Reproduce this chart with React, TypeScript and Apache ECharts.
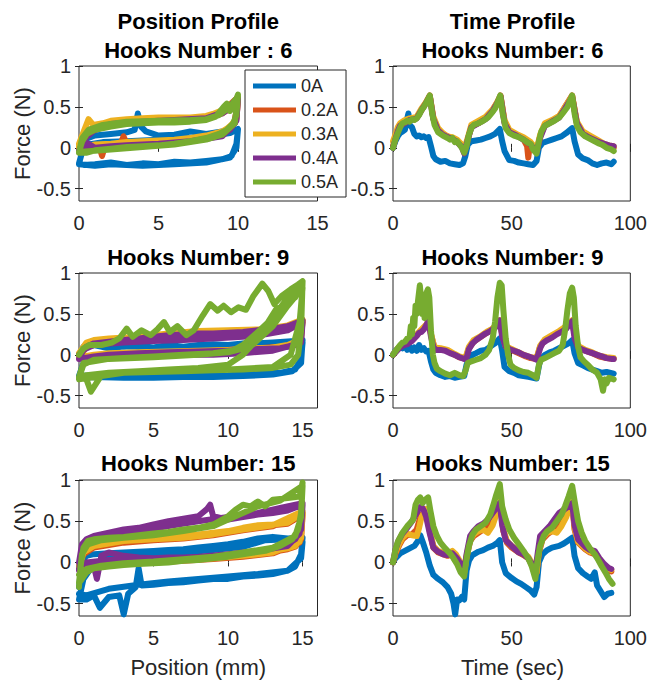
import React, { useEffect, useRef } from "react";
import * as echarts from "echarts";

type P = [number, number][];

const currents = ["0A", "0.2A", "0.3A", "0.4A", "0.5A"];
const colors = ["#0072BD", "#D95319", "#EDB120", "#7E2F8E", "#77AC30"];

const yTicks = [-0.5, 0, 0.5, 1];
const posTicks = [0, 5, 10, 15];
const timeTicks = [0, 50, 100];

const leftTitleTop = "Position Profile";
const rightTitleTop = "Time Profile";
const rowTitlesLeft = ["Hooks Number : 6", "Hooks Number: 9", "Hooks Number: 15"];
const rowTitlesRight = ["Hooks Number: 6", "Hooks Number: 9", "Hooks Number: 15"];
const yLabel = "Force (N)";
const xLabelLeft = "Position (mm)";
const xLabelRight = "Time (sec)";

// ---------- Position profile, hooks 6 ----------
const pos6_0A: P = [[0,0.0],[0.3,0.1],[1,0.15],[2,0.17],[3,0.19],[3.5,0.22],[3.7,0.42],[3.9,0.26],[4.2,0.2],[5,0.15],[6,0.16],[7,0.2],[8,0.17],[9,0.2],[9.8,0.21],[10,0.23],[9.9,0.05],[9.6,-0.1],[9,-0.14],[8,-0.16],[7,-0.18],[6,-0.17],[5,-0.2],[4,-0.19],[3,-0.21],[2,-0.18],[1,-0.2],[0.3,-0.21],[0,-0.19],[0.2,-0.05],[0.6,0.04],[1.5,0.07],[3,0.08],[5,0.1],[7,0.12],[8.5,0.15],[9.5,0.18],[10,0.23],[9.9,0.0],[9.5,-0.12],[8,-0.18],[6,-0.2],[4,-0.22],[2,-0.2],[1,-0.22],[0,-0.2]];
const pos6_02A: P = [[0,0.0],[0.3,0.12],[0.8,0.2],[1.4,0.25],[2,0.3],[3,0.32],[4,0.33],[5,0.34],[6,0.34],[7,0.35],[8,0.37],[9,0.42],[9.6,0.5],[10,0.6],[9.9,0.35],[9.5,0.24],[9,0.18],[8,0.13],[7,0.1],[6,0.08],[5,0.07],[4,0.06],[3,0.05],[2.8,0.14],[2.6,0.04],[2,0.03],[1.6,0.0],[1.45,-0.1],[1.3,0.0],[1,0.02],[0.5,-0.02],[0,-0.04],[0.3,0.12],[1,0.24],[2,0.3],[4,0.33],[6,0.35],[8,0.37],[9,0.44],[10,0.62],[9.8,0.3],[9,0.16],[7,0.1],[5,0.07],[3,0.04],[1,0.01],[0,-0.02]];
const pos6_03A: P = [[0,0.05],[0.3,0.2],[0.6,0.35],[0.9,0.28],[1.5,0.3],[2,0.33],[3,0.35],[4,0.36],[5,0.37],[6,0.37],[7,0.37],[8,0.39],[9,0.45],[9.6,0.52],[10,0.6],[9.9,0.36],[9.5,0.26],[9,0.2],[8,0.15],[7,0.12],[6,0.1],[5,0.09],[4,0.08],[3,0.07],[2,0.05],[1,0.04],[0.5,0.02],[0,0.02],[0.3,0.16],[1,0.27],[2,0.32],[4,0.35],[6,0.36],[8,0.38],[9,0.46],[10,0.6],[9.8,0.32],[9,0.18],[7,0.11],[5,0.08],[3,0.06],[1,0.03],[0,0.0]];
const pos6_04A: P = [[0,-0.04],[0.3,0.1],[1,0.22],[2,0.28],[3,0.31],[4,0.32],[5,0.33],[6,0.33],[7,0.34],[8,0.36],[9,0.42],[9.6,0.5],[10,0.6],[9.9,0.33],[9.5,0.22],[9,0.16],[8,0.11],[7,0.08],[6,0.06],[5,0.05],[4,0.04],[3,0.03],[2,0.02],[1,0.0],[0.5,0.06],[0.2,-0.03],[0,-0.05],[0.3,0.12],[1,0.23],[2,0.29],[4,0.32],[6,0.34],[8,0.36],[9,0.43],[10,0.61],[9.8,0.3],[9,0.14],[7,0.08],[5,0.05],[3,0.03],[1,-0.01],[0,-0.03]];
const pos6_05A: P = [[0,-0.05],[0.2,0.08],[0.5,0.17],[1,0.22],[2,0.26],[3,0.29],[4,0.3],[5,0.31],[6,0.31],[7,0.32],[8,0.34],[8.6,0.38],[9.1,0.5],[9.3,0.54],[9.5,0.45],[9.8,0.55],[10,0.65],[9.9,0.4],[9.7,0.3],[9.3,0.22],[8.8,0.17],[8,0.12],[7,0.08],[6,0.05],[5,0.03],[4,0.02],[3,0.01],[2,-0.01],[1,-0.03],[0.5,-0.06],[0,-0.06],[0.2,0.12],[0.6,0.22],[1.5,0.28],[3,0.32],[5,0.33],[7,0.34],[8,0.35],[8.8,0.4],[9.5,0.5],[10,0.63],[9.8,0.3],[9,0.16],[8,0.1],[6,0.04],[4,0.01],[2,-0.02],[0.8,-0.04],[0,-0.05]];

// ---------- Time profile, hooks 6 ----------
const time6_0A: P = [[0,0.0],[1,0.08],[2,0.14],[3,0.18],[4,0.2],[5,0.22],[6,0.36],[6.5,0.42],[7,0.28],[8,0.25],[9,0.17],[10,0.14],[11,0.15],[12,0.13],[13,0.14],[14,0.12],[15,0.13],[16,0.02],[17,-0.1],[18,-0.14],[20,-0.17],[22,-0.16],[24,-0.19],[26,-0.2],[28,-0.21],[29.5,-0.19],[30.5,-0.1],[31.5,0.04],[33,0.08],[35,0.09],[37,0.1],[39,0.12],[41,0.14],[43,0.17],[45,0.23],[46,0.08],[47,-0.04],[49,-0.15],[51,-0.16],[53,-0.18],[55,-0.19],[57,-0.2],[59,-0.21],[60.5,-0.16],[61.5,0.0],[63,0.06],[65,0.08],[67,0.1],[69,0.12],[71,0.14],[73,0.18],[75.5,0.24],[76.5,0.08],[78,-0.08],[80,-0.13],[82,-0.15],[84,-0.19],[86,-0.21],[88,-0.19],[90,-0.18],[92,-0.2],[93,-0.17]];
const time6_02A: P = [[0,0.02],[1,0.12],[2,0.22],[3,0.28],[5,0.32],[7,0.35],[9,0.35],[10,0.37],[12,0.46],[14,0.56],[15.5,0.64],[17,0.36],[19,0.22],[21,0.17],[23,0.14],[25,0.12],[27,0.08],[29,0.03],[30,-0.04],[31.5,0.1],[33,0.26],[36,0.3],[39,0.36],[42,0.46],[44,0.56],[45.3,0.64],[47,0.32],[49,0.2],[52,0.16],[55,0.1],[56.5,0.02],[57,-0.12],[57.5,0.0],[59,0.02],[60.5,-0.04],[62,0.14],[64,0.28],[67,0.32],[70,0.38],[72.5,0.5],[75.5,0.64],[77.5,0.3],[80,0.18],[83,0.13],[86,0.08],[89,0.03],[91,0.02],[93,0.0]];
const time6_03A: P = [[0,0.08],[1,0.16],[2,0.25],[3,0.3],[5,0.34],[7,0.36],[9,0.37],[10,0.38],[12,0.48],[14,0.56],[15.5,0.63],[17,0.38],[19,0.24],[21,0.18],[23,0.14],[25,0.13],[27,0.1],[29,0.04],[30,-0.02],[31.5,0.12],[33,0.28],[36,0.33],[39,0.38],[42,0.47],[44,0.56],[45.3,0.63],[47,0.34],[49,0.22],[52,0.17],[55,0.13],[58,0.07],[60.5,-0.02],[62,0.16],[64,0.3],[67,0.34],[70,0.39],[72.5,0.5],[75.5,0.63],[77.5,0.32],[80,0.2],[83,0.15],[86,0.1],[89,0.05],[91,0.03],[93,0.02]];
const time6_04A: P = [[0,0.0],[1,0.1],[2,0.2],[3,0.27],[5,0.3],[7,0.34],[9,0.35],[10,0.36],[12,0.46],[14,0.55],[15.5,0.63],[17,0.35],[19,0.21],[21,0.16],[23,0.13],[25,0.11],[27,0.07],[29,0.01],[30,-0.07],[31.5,0.1],[33,0.25],[36,0.3],[39,0.35],[42,0.45],[44,0.55],[45.3,0.63],[47,0.3],[49,0.19],[52,0.15],[55,0.1],[58,0.04],[60.5,-0.06],[62,0.12],[64,0.27],[67,0.32],[70,0.37],[72.5,0.48],[75.5,0.62],[77.5,0.3],[80,0.17],[83,0.12],[86,0.08],[89,0.05],[91,0.03],[93,0.02]];
const time6_05A: P = [[0,0.0],[1,0.1],[2,0.18],[3,0.25],[4,0.3],[5,0.31],[6,0.33],[7,0.32],[8,0.35],[9,0.34],[10,0.36],[11,0.4],[12,0.46],[13,0.5],[14,0.55],[15.5,0.64],[16.5,0.42],[17.5,0.28],[19,0.19],[21,0.15],[23,0.12],[24,0.1],[25,0.12],[26,0.07],[27,0.08],[28,0.04],[29,0.0],[30,-0.06],[31,0.02],[32,0.16],[33,0.24],[34,0.28],[36,0.3],[38,0.33],[40,0.37],[42,0.44],[43,0.48],[44,0.55],[45.2,0.64],[46.2,0.42],[47.5,0.24],[49,0.18],[51,0.15],[53,0.13],[55,0.1],[56,0.08],[57,0.06],[58,0.05],[59,-0.02],[60.5,-0.07],[61.5,0.08],[62.5,0.2],[64,0.27],[66,0.3],[68,0.33],[70,0.37],[72,0.44],[73.5,0.5],[75.5,0.64],[76.5,0.42],[77.5,0.27],[79,0.19],[81,0.14],[83,0.11],[85,0.08],[87,0.05],[88,0.04],[90,0.0],[92,-0.02],[93,-0.04]];

// ---------- Position profile, hooks 9 ----------
const pos9_0A: P = [[0,0.0],[0.3,0.1],[1,0.12],[2,0.08],[3,0.1],[4,0.11],[5,0.09],[6,0.12],[7,0.1],[8,0.12],[9,0.13],[10,0.12],[11,0.14],[12,0.12],[13,0.13],[14,0.1],[15,0.15],[14.9,-0.05],[14.5,-0.18],[13.5,-0.22],[12,-0.23],[10,-0.25],[8,-0.26],[6,-0.26],[4,-0.27],[2,-0.26],[1,-0.25],[0,-0.26],[0.3,-0.1],[1,-0.02],[3,0.02],[5,0.05],[7,0.07],[9,0.1],[11,0.13],[13,0.15],[14.5,0.17],[15,0.18],[14.9,-0.1],[14.3,-0.2],[13,-0.24],[11,-0.26],[9,-0.27],[7,-0.27],[5,-0.28],[3,-0.28],[1,-0.27],[0,-0.28]];
const pos9_02A: P = [[0,0.0],[0.5,0.14],[1,0.17],[2,0.19],[4,0.21],[6,0.25],[8,0.28],[10,0.29],[12,0.3],[13,0.32],[14,0.35],[15,0.42],[14.9,0.21],[14.5,0.13],[13.5,0.1],[12,0.08],[10,0.06],[8,0.04],[6,0.03],[4,0.02],[2,0.01],[1,-0.01],[0,-0.04],[0.5,0.1],[2,0.16],[4,0.18],[6,0.21],[8,0.24],[10,0.26],[12,0.27],[14,0.31],[15,0.4],[14.8,0.17],[14,0.11],[12,0.05],[10,0.03],[8,0.02],[6,0.01],[4,0.0],[2,-0.01],[0,-0.04]];
const pos9_03A: P = [[0,0.02],[0.5,0.15],[1,0.18],[2,0.2],[4,0.22],[6,0.26],[8,0.29],[10,0.3],[12,0.31],[13,0.33],[14,0.36],[15,0.43],[14.9,0.22],[14.5,0.14],[13.5,0.1],[12,0.08],[10,0.06],[8,0.05],[6,0.04],[4,0.03],[2,0.02],[1,0.0],[0,-0.03],[0.5,0.12],[2,0.17],[4,0.19],[6,0.22],[8,0.25],[10,0.27],[12,0.28],[14,0.32],[15,0.41],[14.8,0.18],[14,0.12],[12,0.06],[10,0.04],[8,0.03],[6,0.02],[4,0.01],[2,0.0],[0,-0.03]];
const pos9_04A: P = [[0,0.0],[0.5,0.1],[1,0.14],[2,0.16],[3,0.18],[4,0.2],[5,0.22],[6,0.24],[7,0.25],[8,0.26],[9,0.26],[10,0.27],[11,0.28],[12,0.3],[13,0.32],[14,0.35],[15,0.42],[14.9,0.2],[14.5,0.12],[13.5,0.08],[12,0.07],[10,0.05],[8,0.04],[6,0.03],[4,0.02],[2,0.0],[1,-0.02],[0,-0.05],[0.3,0.06],[1,0.12],[3,0.15],[5,0.17],[7,0.18],[9,0.2],[11,0.22],[12.5,0.25],[14,0.3],[15,0.4],[14.9,0.15],[14,0.1],[13,0.05],[11,0.02],[9,0.0],[7,0.0],[5,-0.01],[3,-0.02],[1,-0.04],[0,-0.05]];
const pos9_05A: P = [[0,0.0],[0.3,0.08],[0.7,0.12],[1.5,0.12],[2.2,0.15],[2.7,0.2],[3.2,0.32],[3.6,0.22],[4.2,0.3],[4.8,0.24],[5.3,0.32],[5.7,0.4],[6.1,0.28],[6.6,0.35],[7.2,0.24],[7.7,0.3],[8.3,0.48],[8.8,0.62],[9.3,0.54],[9.7,0.6],[10.2,0.52],[10.7,0.58],[11.2,0.55],[11.7,0.72],[12.3,0.87],[12.7,0.78],[13.1,0.62],[13.6,0.72],[14.2,0.8],[14.7,0.86],[15,0.9],[14.9,0.3],[14.7,0.0],[14.2,-0.12],[13,-0.16],[11,-0.18],[9,-0.19],[7,-0.2],[5,-0.21],[3,-0.22],[1.5,-0.25],[0.8,-0.45],[0.5,-0.3],[0,-0.28],[0.3,-0.12],[1,-0.06],[3,-0.04],[5,-0.02],[7,0.0],[9,0.02],[10.3,0.05],[11,0.12],[12,0.28],[13,0.45],[14,0.7],[15,0.9],[14.5,0.7],[13.2,0.55],[12,0.2],[11,0.0],[10,-0.12],[8,-0.16],[6,-0.18],[4,-0.2],[2,-0.22],[0.5,-0.25],[0,-0.27],[0.3,-0.1],[2,-0.05],[5,-0.03],[8,0.0],[10,0.03],[11.5,0.1],[13,0.35],[14,0.6],[15,0.82],[14.8,0.4],[14.2,0.0],[13,-0.15],[10,-0.18],[6,-0.2],[3,-0.22],[0,-0.3]];

// ---------- Time profile, hooks 9 ----------
const time9_0A: P = [[0,0.0],[1,0.05],[2,0.08],[3,0.1],[4,0.08],[5,0.12],[6,0.06],[7,0.1],[8,0.05],[9,0.09],[10,0.05],[11,0.12],[12,0.06],[13,0.08],[14,0.04],[15,0.05],[16,-0.08],[17,-0.18],[18,-0.22],[20,-0.25],[22,-0.27],[24,-0.26],[26,-0.28],[28,-0.27],[30,-0.26],[31,-0.12],[32,-0.05],[33.5,0.0],[35,0.02],[37,0.05],[39,0.06],[41,0.1],[43,0.14],[45,0.2],[46,0.05],[47,-0.15],[49,-0.2],[51,-0.22],[53,-0.25],[55,-0.26],[57,-0.27],[59,-0.28],[60.5,-0.29],[62,-0.06],[64,0.0],[66,0.03],[68,0.05],[70,0.08],[72,0.11],[74,0.14],[75.5,0.18],[76.5,0.02],[78,-0.1],[80,-0.13],[82,-0.16],[84,-0.18],[86,-0.2],[88,-0.22],[90,-0.21],[93,-0.23]];
const time9_02A: P = [[0,0.0],[2,0.07],[4,0.12],[6,0.14],[8,0.18],[10,0.24],[12,0.3],[14,0.36],[15,0.42],[16,0.25],[17.5,0.08],[20,0.07],[23,0.05],[26,0.0],[28,-0.03],[30.5,-0.05],[32,0.08],[34,0.16],[37,0.22],[40,0.28],[42,0.32],[44,0.38],[45,0.42],[46,0.25],[47.5,0.1],[50,0.06],[53,0.02],[56,-0.02],[58,-0.04],[60.5,-0.05],[62,0.1],[64,0.18],[67,0.22],[70,0.28],[72,0.32],[74,0.38],[75.5,0.42],[76.5,0.25],[78,0.1],[81,0.05],[84,0.02],[87,-0.02],[90,-0.04],[93,-0.05]];
const time9_03A: P = [[0,0.0],[2,0.08],[4,0.13],[6,0.15],[8,0.19],[10,0.25],[12,0.31],[14,0.37],[15,0.41],[16,0.25],[17.5,0.09],[20,0.08],[23,0.06],[26,0.01],[28,-0.02],[30.5,-0.04],[32,0.1],[34,0.18],[37,0.23],[40,0.29],[42,0.32],[44,0.38],[45,0.42],[46,0.26],[47.5,0.11],[50,0.07],[53,0.03],[56,-0.01],[58,-0.03],[60.5,-0.04],[62,0.11],[64,0.19],[67,0.24],[70,0.29],[72,0.33],[74,0.38],[75.5,0.42],[76.5,0.26],[78,0.11],[81,0.06],[84,0.03],[87,-0.01],[90,-0.03],[93,-0.04]];
const time9_04A: P = [[0,0.0],[1,0.03],[2,0.06],[3,0.09],[4,0.11],[5,0.12],[6,0.13],[7,0.15],[8,0.17],[9,0.2],[10,0.23],[11,0.27],[12,0.28],[13,0.31],[14,0.36],[15,0.42],[16,0.22],[17,0.1],[18,0.06],[20,0.06],[22,0.05],[24,0.02],[26,0.0],[28,-0.03],[30,-0.05],[31,-0.04],[32,0.07],[33.5,0.14],[35,0.18],[37,0.22],[39,0.26],[41,0.29],[43,0.33],[44,0.37],[45,0.42],[46,0.22],[47.5,0.1],[49,0.07],[51,0.05],[53,0.03],[55,0.0],[57,-0.02],[59,-0.04],[60.5,-0.06],[62,0.08],[63,0.14],[65,0.18],[67,0.21],[69,0.25],[71,0.28],[73,0.32],[74.5,0.38],[75.5,0.41],[76.5,0.2],[78,0.09],[80,0.06],[82,0.04],[84,0.02],[86,0.0],[88,-0.02],[90,-0.04],[92,-0.05],[93,-0.05]];
const time9_05A: P = [[0,0.0],[1,0.04],[2,0.08],[3,0.12],[4,0.15],[5,0.16],[6,0.2],[7,0.22],[7.5,0.35],[8,0.25],[8.5,0.45],[9,0.35],[9.5,0.6],[10,0.5],[10.5,0.65],[11.3,0.85],[11.8,0.7],[12.3,0.5],[12.8,0.62],[13.3,0.45],[14,0.75],[14.7,0.8],[15.3,0.7],[16,0.3],[16.8,0.0],[17.5,-0.1],[18.5,-0.17],[20,-0.2],[22,-0.23],[24,-0.25],[26,-0.22],[28,-0.25],[29.5,-0.26],[30.5,-0.2],[31.5,-0.1],[33,-0.08],[35,-0.06],[37,-0.04],[39,0.0],[40.5,0.06],[42,0.2],[43,0.4],[44,0.7],[45,0.88],[45.8,0.85],[46.5,0.55],[47.5,0.2],[48.5,0.0],[49.5,-0.12],[51,-0.16],[53,-0.19],[55,-0.21],[57,-0.22],[59,-0.25],[60.5,-0.28],[61.5,-0.12],[62.5,-0.06],[64,-0.04],[66,-0.01],[68,0.02],[70,0.05],[71.5,0.12],[72.5,0.3],[73.5,0.55],[74.5,0.75],[75.5,0.82],[76.2,0.7],[77,0.35],[78,0.1],[79,-0.03],[80.5,-0.08],[82,-0.12],[84,-0.18],[86,-0.22],[87.5,-0.3],[88.5,-0.44],[89.3,-0.3],[90,-0.35],[91,-0.28],[93,-0.3]];

// ---------- Position profile, hooks 15 ----------
const pos15_0A: P = [[0,-0.3],[0.2,0.0],[0.5,0.08],[1,0.1],[2,0.11],[3,0.12],[4,0.13],[5,0.14],[6,0.15],[7,0.16],[8,0.18],[9,0.2],[10,0.22],[11,0.25],[12,0.29],[13,0.31],[14,0.29],[15,0.3],[14.9,0.1],[14.5,-0.05],[14,-0.1],[13,-0.14],[12,-0.16],[11,-0.17],[10,-0.2],[9,-0.2],[8,-0.22],[7,-0.24],[6,-0.25],[5,-0.27],[4.2,-0.28],[4,-0.07],[3.8,-0.3],[3.3,-0.38],[3,-0.63],[2.7,-0.4],[2,-0.42],[1.4,-0.55],[1,-0.4],[0.5,-0.45],[0,-0.45],[0.3,-0.2],[1,-0.02],[2,0.05],[3,0.08],[5,0.1],[7,0.12],[9,0.15],[11,0.19],[12.5,0.27],[14,0.28],[15,0.25],[14.9,0.05],[14,-0.1],[12,-0.14],[10,-0.17],[8,-0.2],[6,-0.23],[4,-0.27],[2,-0.32],[0.5,-0.4],[0,-0.38]];
const pos15_02A: P = [[0,-0.05],[0.3,0.12],[1,0.2],[2,0.24],[3,0.26],[4,0.27],[5,0.28],[6,0.3],[7,0.31],[8,0.33],[9,0.35],[10,0.37],[11,0.4],[12,0.43],[13,0.45],[14,0.47],[15,0.58],[14.9,0.28],[14.5,0.19],[14,0.16],[13,0.13],[12,0.11],[11,0.09],[10,0.07],[9,0.05],[8,0.04],[7,0.03],[6,0.02],[5,0.01],[4,0.0],[3,-0.01],[2,0.01],[1,-0.01],[0,-0.06],[0.3,0.1],[1,0.18],[3,0.24],[5,0.27],[7,0.29],[9,0.33],[11,0.39],[13,0.44],[15,0.6],[14.8,0.24],[13,0.11],[11,0.07],[9,0.04],[7,0.02],[5,0.0],[3,-0.02],[1,-0.03],[0,-0.06]];
const pos15_03A: P = [[0,-0.05],[0.3,0.15],[1,0.22],[2,0.26],[3,0.28],[4,0.29],[5,0.3],[6,0.31],[7,0.33],[8,0.34],[9,0.36],[10,0.38],[11,0.42],[12,0.45],[13,0.46],[14,0.48],[15,0.6],[14.9,0.3],[14.5,0.2],[14,0.17],[13,0.14],[12,0.12],[11,0.1],[10,0.08],[9,0.06],[8,0.05],[7,0.04],[6,0.03],[5,0.02],[4,0.01],[3,0.0],[2,0.02],[1,0.0],[0.5,-0.02],[0,-0.05],[0.3,0.12],[1,0.2],[3,0.26],[5,0.28],[7,0.3],[9,0.34],[11,0.4],[13,0.45],[15,0.62],[14.8,0.25],[13,0.12],[11,0.08],[9,0.05],[7,0.03],[5,0.01],[3,-0.01],[1,-0.02],[0,-0.06]];
const pos15_04A: P = [[0,0.0],[0.2,0.22],[0.5,0.28],[1,0.32],[2,0.36],[3,0.4],[4,0.42],[5,0.46],[6,0.5],[7,0.53],[8,0.56],[8.6,0.65],[8.8,0.7],[9,0.56],[10,0.52],[11,0.55],[12,0.58],[13,0.6],[14,0.63],[15,0.7],[14.9,0.4],[14.5,0.28],[14,0.22],[13,0.17],[12,0.14],[11,0.12],[10,0.1],[9,0.08],[8,0.07],[7,0.06],[6,0.06],[5,0.05],[4,0.06],[3,0.08],[2,0.12],[1.5,0.08],[1.2,-0.2],[1,-0.05],[0.5,-0.08],[0,-0.1],[0.2,0.2],[0.8,0.3],[2,0.34],[4,0.38],[6,0.44],[8,0.5],[10,0.55],[12,0.6],[13.5,0.66],[15,0.72],[14.8,0.35],[14,0.2],[12,0.14],[10,0.1],[8,0.07],[6,0.05],[4,0.04],[2,0.03],[0.5,0.0],[0,-0.08]];
const pos15_05A: P = [[0,-0.3],[0.1,-0.05],[0.3,0.18],[0.6,0.26],[1,0.28],[2,0.3],[3,0.31],[4,0.33],[5,0.35],[6,0.37],[7,0.4],[8,0.42],[9,0.46],[10,0.56],[10.5,0.64],[11,0.7],[11.5,0.68],[12,0.74],[12.5,0.68],[13,0.76],[14,0.78],[14.8,0.8],[15,0.97],[14.9,0.6],[14.7,0.4],[14.3,0.28],[13.5,0.2],[12.5,0.14],[11,0.1],[10,0.07],[9,0.05],[8,0.03],[7,0.02],[6,0.0],[5,-0.01],[4,-0.02],[3,-0.03],[2,-0.05],[1,-0.07],[0.5,-0.12],[0.2,-0.2],[0,-0.25],[0.2,0.1],[0.6,0.22],[1.5,0.27],[3,0.3],[5,0.33],[7,0.38],[9,0.44],[10.5,0.56],[12,0.68],[13.5,0.75],[15,0.93],[14.9,0.55],[14.5,0.32],[13,0.18],[11,0.12],[9,0.07],[7,0.04],[5,0.01],[3,-0.01],[1.5,-0.04],[0.5,-0.08],[0,-0.15]];

// ---------- Time profile, hooks 15 ----------
const time15_0A: P = [[0,0.0],[1,0.05],[3,0.11],[5,0.14],[7,0.17],[9,0.2],[10.5,0.26],[11.5,0.33],[12.5,0.25],[14,0.12],[15.5,-0.04],[17,-0.15],[19,-0.2],[21,-0.24],[23,-0.3],[24.5,-0.38],[25.5,-0.5],[26.2,-0.63],[27,-0.45],[28,-0.46],[29,-0.42],[30,-0.45],[31,-0.1],[32,0.02],[33.5,0.09],[36,0.13],[38,0.15],[40,0.18],[42,0.2],[44,0.24],[45,0.27],[46,0.0],[47.5,-0.13],[50,-0.19],[52,-0.23],[54,-0.26],[56,-0.3],[58,-0.34],[59.5,-0.39],[60.5,-0.3],[61.5,0.0],[63,0.1],[65,0.15],[67,0.18],[70,0.2],[72,0.23],[74,0.27],[75.5,0.3],[76.5,0.08],[78,-0.07],[80,-0.13],[82,-0.17],[83.5,-0.2],[85,-0.12],[86,-0.28],[87.5,-0.35],[89,-0.42],[90.5,-0.38],[92,-0.37]];
const time15_02A: P = [[0,0.0],[1,0.1],[2.5,0.2],[4,0.28],[6,0.33],[8,0.34],[10,0.4],[11,0.5],[12,0.58],[13,0.6],[14,0.62],[15.5,0.38],[17,0.18],[19,0.12],[21,0.1],[23,0.08],[25,0.1],[27,0.05],[28.5,-0.02],[30,-0.12],[31,0.06],[32.5,0.26],[34,0.32],[36,0.36],[38,0.4],[40,0.45],[42,0.52],[44,0.62],[45.3,0.72],[46.5,0.38],[48,0.24],[50,0.18],[53,0.12],[55,0.09],[57,0.05],[59,-0.05],[60.5,-0.13],[61.5,0.12],[63,0.28],[65,0.34],[67,0.38],[69,0.42],[71,0.48],[73,0.58],[75.5,0.72],[76.5,0.4],[78,0.24],[81,0.16],[83,0.12],[85,0.1],[87,0.03],[89,-0.05],[91,-0.1],[92,-0.11]];
const time15_03A: P = [[0,0.0],[1,0.12],[2.5,0.22],[4,0.3],[6,0.35],[8,0.33],[10,0.32],[11,0.42],[12,0.55],[13,0.6],[14,0.65],[15.5,0.4],[17,0.2],[19,0.14],[21,0.12],[23,0.1],[25,0.14],[26.5,0.1],[28.5,0.0],[30,-0.12],[31,0.08],[32.5,0.28],[34,0.34],[36,0.38],[38,0.4],[40,0.36],[42,0.45],[44,0.62],[45.3,0.75],[46.5,0.4],[48,0.26],[50,0.2],[53,0.14],[55,0.11],[57,0.07],[59,-0.03],[60.5,-0.12],[61.5,0.15],[63,0.3],[65,0.36],[67,0.38],[69,0.36],[71,0.44],[73,0.55],[75.5,0.75],[76.5,0.42],[78,0.25],[81,0.17],[83,0.13],[85,0.12],[87,0.04],[89,-0.04],[91,-0.08],[92,-0.09]];
const time15_04A: P = [[0,0.0],[1,0.15],[2.4,0.27],[4,0.35],[6,0.42],[8,0.5],[10,0.6],[11,0.66],[12,0.68],[13,0.63],[14,0.55],[15.5,0.35],[17,0.18],[19,0.13],[21,0.1],[23,0.09],[25,0.11],[27,0.05],[28.5,-0.02],[30,-0.1],[31,0.1],[32.5,0.32],[34,0.38],[36,0.44],[38,0.47],[40,0.52],[42,0.6],[44,0.68],[45,0.72],[46,0.45],[47.5,0.27],[50,0.2],[53,0.12],[55,0.1],[57,0.05],[59,-0.05],[60,-0.1],[61,0.12],[62,0.32],[64,0.38],[66,0.44],[68,0.52],[70,0.6],[72,0.64],[74,0.68],[75.5,0.72],[76.5,0.45],[78,0.28],[81,0.19],[83,0.15],[85,0.14],[87,0.05],[89,-0.02],[91,-0.07],[92,-0.08]];
const time15_05A: P = [[0,0.0],[1,0.15],[2,0.25],[4,0.36],[6,0.44],[7,0.47],[8.5,0.52],[9.5,0.7],[10.5,0.76],[11.5,0.79],[12.5,0.72],[13.5,0.76],[14.8,0.79],[15.8,0.62],[17,0.44],[18.5,0.32],[20,0.24],[22,0.17],[24,0.11],[25.5,0.05],[27,-0.02],[28.5,-0.12],[30,-0.17],[31,0.05],[32,0.2],[33.5,0.34],[35,0.4],[37,0.44],[39,0.48],[41,0.58],[42.5,0.72],[43.5,0.82],[45,0.95],[46,0.68],[47.5,0.52],[49,0.4],[51,0.3],[53,0.22],[55,0.14],[57,0.05],[58.5,-0.05],[60,-0.2],[61,0.05],[62,0.2],[63.5,0.32],[65,0.38],[67,0.42],[69,0.5],[71,0.58],[72.5,0.68],[74,0.8],[75.5,0.93],[76.5,0.75],[78,0.5],[79.5,0.36],[81,0.26],[83,0.17],[85,0.1],[86.5,0.03],[88,-0.05],[89.5,-0.12],[91,-0.2],[92.5,-0.26]];

const panelData: P[][] = [
  [pos6_0A, pos6_02A, pos6_03A, pos6_04A, pos6_05A],
  [time6_0A, time6_02A, time6_03A, time6_04A, time6_05A],
  [pos9_0A, pos9_02A, pos9_03A, pos9_04A, pos9_05A],
  [time9_0A, time9_02A, time9_03A, time9_04A, time9_05A],
  [pos15_0A, pos15_02A, pos15_03A, pos15_04A, pos15_05A],
  [time15_0A, time15_02A, time15_03A, time15_04A, time15_05A],
];

const FONT = '"Liberation Sans", Arial, Helvetica, sans-serif';
const AX = "#262626";

const colLeft = [79, 393];
const colWidth = [238.5, 239];
const rowTop = [66, 273, 480];
const rowHeight = [135, 135, 136];
const xMaxes = [15, 100, 16, 100, 16, 100];

function textEl(x: number, y: number, text: string, size: number, weight: string, fill: string, rotation: number) {
  return {
    type: "text",
    x,
    y,
    rotation,
    silent: true,
    z: 20,
    style: {
      text,
      fontSize: size,
      fontWeight: weight,
      fontFamily: FONT,
      fill,
      align: "center",
      verticalAlign: "middle",
      textAlign: "center",
      textVerticalAlign: "middle",
    },
  };
}

function buildOption() {
  const grids: any[] = [];
  const xAxes: any[] = [];
  const yAxes: any[] = [];
  const series: any[] = [];
  const graphics: any[] = [];

  for (let p = 0; p < 6; p++) {
    const row = Math.floor(p / 2);
    const col = p % 2;
    grids.push({
      left: colLeft[col],
      top: rowTop[row],
      width: colWidth[col],
      height: rowHeight[row],
      show: true,
      borderColor: AX,
      borderWidth: 1,
      backgroundColor: "transparent",
      containLabel: false,
    });
    const xt = col === 0 ? posTicks : timeTicks;
    const common = { type: "value", gridIndex: p, min: 0, max: xMaxes[p], splitLine: { show: false } };
    xAxes.push({
      ...common,
      position: "bottom",
      axisLine: { show: false },
      axisTick: { show: true, inside: true, length: 4, customValues: xt, lineStyle: { color: AX } },
      axisLabel: { show: true, customValues: xt, margin: 12, fontSize: 20, color: AX, fontFamily: FONT },
    });
    xAxes.push({
      ...common,
      position: "top",
      axisLine: { show: false },
      axisTick: { show: true, inside: true, length: 4, customValues: xt, lineStyle: { color: AX } },
      axisLabel: { show: false },
    });
    const ycommon = { type: "value", gridIndex: p, min: -0.65, max: 1, splitLine: { show: false } };
    yAxes.push({
      ...ycommon,
      position: "left",
      axisLine: { show: false },
      axisTick: { show: true, inside: true, length: 4, customValues: yTicks, lineStyle: { color: AX } },
      axisLabel: { show: true, customValues: yTicks, margin: 8, fontSize: 20, color: AX, fontFamily: FONT },
    });
    yAxes.push({
      ...ycommon,
      position: "right",
      axisLine: { show: false },
      axisTick: { show: true, inside: true, length: 4, customValues: yTicks, lineStyle: { color: AX } },
      axisLabel: { show: false },
    });

    panelData[p].forEach((d, k) => {
      series.push({
        type: "line",
        name: currents[k],
        xAxisIndex: p * 2,
        yAxisIndex: p * 2,
        data: d,
        symbol: "none",
        showSymbol: false,
        silent: true,
        clip: true,
        color: colors[k],
        itemStyle: { color: colors[k] },
        lineStyle: { width: 6, color: colors[k], join: "round", cap: "round" },
        z: 2,
      });
    });

    const cx = colLeft[col] + colWidth[col] / 2;
    const title = col === 0 ? rowTitlesLeft[row] : rowTitlesRight[row];
    const titleY = [50, 257, 463][row];
    graphics.push(textEl(cx, titleY, title, 22, "bold", "#000", 0));
    if (col === 0) {
      graphics.push(textEl(22, rowTop[row] + rowHeight[row] / 2, yLabel, 22, "normal", AX, Math.PI / 2));
    }
  }
  graphics.push(textEl(colLeft[0] + colWidth[0] / 2, 21, leftTitleTop, 22, "bold", "#000", 0));
  graphics.push(textEl(colLeft[1] + colWidth[1] / 2, 21, rightTitleTop, 22, "bold", "#000", 0));
  graphics.push(textEl(colLeft[0] + colWidth[0] / 2, 667, xLabelLeft, 22, "normal", AX, 0));
  graphics.push(textEl(colLeft[1] + colWidth[1] / 2, 667, xLabelRight, 22, "normal", AX, 0));

  return {
    animation: false,
    backgroundColor: "#ffffff",
    textStyle: { fontFamily: FONT },
    grid: grids,
    xAxis: xAxes,
    yAxis: yAxes,
    series,
    legend: {
      data: currents,
      orient: "vertical",
      left: 245,
      top: 70,
      padding: [7, 8, 6, 8],
      itemGap: 6,
      itemWidth: 43,
      itemHeight: 5,
      icon: "rect",
      backgroundColor: "#ffffff",
      borderColor: AX,
      borderWidth: 1,
      selectedMode: false,
      textStyle: { fontSize: 18, color: AX, fontFamily: FONT },
      z: 10,
    },
    graphic: { elements: graphics },
  };
}

export default function App() {
  const ref = useRef<HTMLDivElement>(null);
  useEffect(() => {
    if (!ref.current) return;
    const chart = echarts.init(ref.current, undefined, { renderer: "svg", width: 650, height: 682 });
    chart.setOption(buildOption() as any);
    return () => chart.dispose();
  }, []);
  return (
    <div
      ref={ref}
      style={{ position: "absolute", left: 0, top: 0, width: 650, height: 682, background: "#fff" }}
    />
  );
}
